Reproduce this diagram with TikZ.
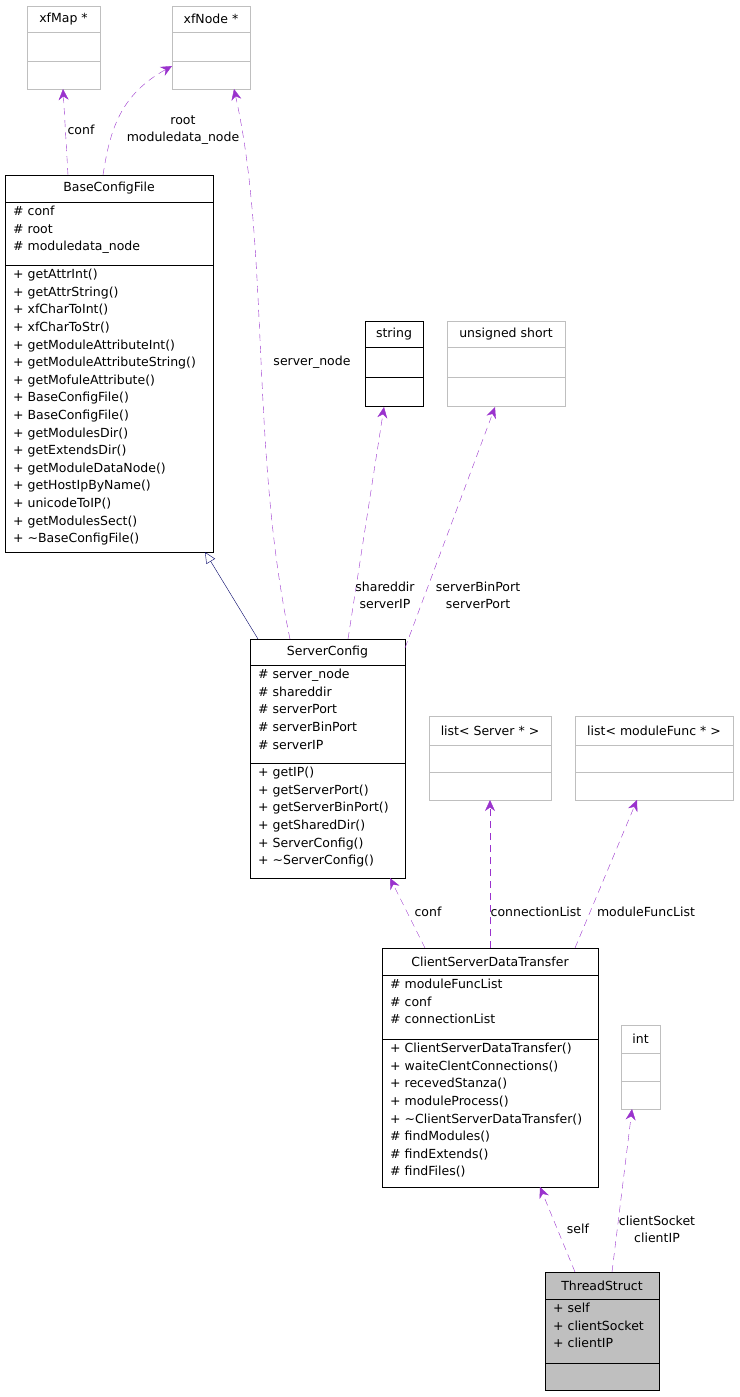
\documentclass[tikz,border=0pt]{standalone}
\usepackage{fontspec}
\setmainfont{DejaVu Sans}
\usetikzlibrary{arrows.meta}
\definecolor{edge}{HTML}{9A32CD}
\definecolor{gb}{HTML}{BFBFBF}
\tikzset{
  dep/.style={draw=edge,dash pattern=on 7pt off 5pt,-{Stealth[length=11pt,width=10pt,fill=edge]}},
  inh/.style={draw=blue!40!black,-{Triangle[open,length=11pt,width=10pt]}},
  lbl/.style={font=\fontsize{12.5}{17}\selectfont,align=center,inner sep=0pt},
  txt/.style={font=\fontsize{12.5}{17.6}\selectfont,align=left,anchor=north west,inner sep=0pt},
}
% name, x1,y1,x2,y2, sep1, sep2, title, border colour
\newcommand\ubox[9]{%
  \node[draw=#9,fill=white,minimum width=#4pt-#2pt,minimum height=#5pt-#3pt,inner sep=0pt,anchor=north west] (#1) at (#2,#3) {};
  \draw[#9] (#2,#6)--(#4,#6) (#2,#7)--(#4,#7);
  \node[font=\fontsize{12.5}{15}\selectfont,inner sep=0pt] (#1t) at ({(#2+#4)/2},{(#3+#6)/2}) {#8};
}
\begin{document}
\begin{tikzpicture}[x=1pt,y=-1pt]
\useasboundingbox (0,0) rectangle (739,1397);
\ubox{xfmap}{27}{6}{100}{89}{32}{61}{xfMap *}{gb}
\ubox{xfnode}{172}{6}{250}{89}{32}{61}{xfNode *}{gb}
\ubox{bcf}{5}{175}{213}{552}{202}{265}{BaseConfigFile}{black}
\node[txt] (bcfa) at (13,206) {\# conf\\\# root\\\# moduledata\_node};
\node[txt] (bcfm) at (13,269) {+ getAttrInt()\\+ getAttrString()\\+ xfCharToInt()\\+ xfCharToStr()\\+ getModuleAttributeInt()\\+ getModuleAttributeString()\\+ getMofuleAttribute()\\+ BaseConfigFile()\\+ BaseConfigFile()\\+ getModulesDir()\\+ getExtendsDir()\\+ getModuleDataNode()\\+ getHostIpByName()\\+ unicodeToIP()\\+ getModulesSect()\\+ \char"223C BaseConfigFile()};
\ubox{str}{365}{321}{423}{406}{347}{377}{string}{black}
\ubox{us}{447}{321}{565}{406}{347}{377}{unsigned short}{gb}
\ubox{sc}{250}{639}{405}{878}{665}{763}{ServerConfig}{black}
\node[txt] (sca) at (258,669) {\# server\_node\\\# shareddir\\\# serverPort\\\# serverBinPort\\\# serverIP};
\node[txt] (scm) at (258,767) {+ getIP()\\+ getServerPort()\\+ getServerBinPort()\\+ getSharedDir()\\+ ServerConfig()\\+ \char"223C ServerConfig()};
\ubox{ls}{429}{716}{551}{800}{745}{772}{list< Server * >}{gb}
\ubox{lm}{575}{716}{733}{800}{745}{772}{list< moduleFunc * >}{gb}
\ubox{cs}{382}{948}{598}{1187}{975}{1039}{ClientServerDataTransfer}{black}
\node[txt] (csa) at (390,979) {\# moduleFuncList\\\# conf\\\# connectionList};
\node[txt] (csm) at (390,1043) {+ ClientServerDataTransfer()\\+ waiteClentConnections()\\+ recevedStanza()\\+ moduleProcess()\\+ \char"223C ClientServerDataTransfer()\\\# findModules()\\\# findExtends()\\\# findFiles()};
\ubox{int}{621}{1025}{660}{1109}{1053}{1081}{int}{gb}
\node[draw=black,fill=gray!50,minimum width=114pt,minimum height=118pt,inner sep=0pt,anchor=north west] (ts) at (545,1272) {};
\draw (545,1299)--(659,1299) (545,1363)--(659,1363);
\node[font=\fontsize{12.5}{15}\selectfont,inner sep=0pt] (tst) at (602,1285.5) {ThreadStruct};
\node[txt] (tsa) at (553,1303) {+ self\\+ clientSocket\\+ clientIP};
% coordinates
\coordinate (a1) at (68,175); \coordinate (b1) at (63,89);
\coordinate (a2) at (103,175); \coordinate (b2) at (172,66);
\coordinate (a3) at (290,639); \coordinate (b3) at (234,89);
\coordinate (a4) at (348,639); \coordinate (b4) at (384,407);
\coordinate (a5) at (405,648); \coordinate (b5) at (495,407);
\coordinate (a6) at (258,639); \coordinate (b6) at (205,552);
\coordinate (a7) at (425,948); \coordinate (b7) at (390,878);
\coordinate (a8) at (490,948); \coordinate (b8) at (490,800);
\coordinate (a9) at (575,948); \coordinate (b9) at (637,800);
\coordinate (a10) at (575,1272); \coordinate (b10) at (540,1187);
\coordinate (a11) at (612,1272); \coordinate (b11) at (632,1109);
\draw[dep] (a1) -- (b1);
\draw[dep] (a2) .. controls (110,130) and (120,95) .. (b2);
\draw[dep] (a3) .. controls (250,450) and (270,250) .. (b3);
\draw[dep] (a4) -- (b4);
\draw[dep] (a5) -- (b5);
\draw[inh] (a6) -- (b6);
\draw[dep] (a7) -- (b7);
\draw[dep] (a8) -- (b8);
\draw[dep] (a9) -- (b9);
\draw[dep] (a10) -- (b10);
\draw[dep] (a11) -- (b11);
\node[lbl] (l1) at (81,130) {conf};
\node[lbl] (l2) at (183,130) {root\\moduledata\_node};
\node[lbl] (l3) at (312,362) {server\_node};
\node[lbl] (l4) at (385,595) {shareddir\\serverIP};
\node[lbl] (l5) at (478,595) {serverBinPort\\serverPort};
\node[lbl] (l7) at (428,912) {conf};
\node[lbl] (l8) at (536,912) {connectionList};
\node[lbl] (l9) at (646,912) {moduleFuncList};
\node[lbl] (l10) at (578,1229) {self};
\node[lbl] (l11) at (657,1229) {clientSocket\\clientIP};
\end{tikzpicture}
\end{document}
